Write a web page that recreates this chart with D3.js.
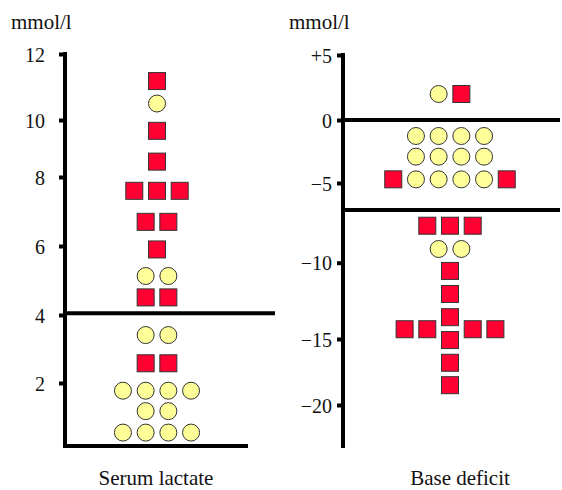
<!DOCTYPE html>
<html>
<head>
<meta charset="utf-8">
<script src="https://cdn.jsdelivr.net/npm/d3@7"></script>
<style>
  html, body { margin: 0; padding: 0; background: #fff; }
</style>
</head>
<body>
<svg id="chart" width="562" height="490"></svg>
<script>
// ---------- DATA ----------
const unitLabel = "mmol/l";
const panelTitles = ["Serum lactate", "Base deficit"];

// tick values and labels
const lactateTicks = [2, 4, 6, 8, 10, 12];
const lactateTickLabels = ["2", "4", "6", "8", "10", "12"];
const deficitTicks = [5, 0, -5, -10, -15, -20];
const deficitTickLabels = ["+5", "0", "\u22125", "\u221210", "\u221215", "\u221220"];

// thresholds (horizontal reference lines)
const lactateThresholds = [4.05];
const deficitThresholds = [0, -6.7];

// rows of markers: value, and pattern (S = square, C = circle, . = gap)
const lactateValues = [11.18, 10.5, 9.62, 8.54, 7.6, 6.7, 5.9, 5.13, 4.51, 3.41, 2.58, 1.77, 1.16, 0.52];
const lactatePatterns = ["S", "C", "S", "S", "SSS", "SS", "S", "CC", "SS", "CC", "SS", "CCCC", "CC", "CCCC"];

const deficitValues = [2.0, -1.27, -2.91, -4.71, -7.68, -9.14, -10.54, -12.05, -13.57, -14.36, -15.08, -16.8, -18.5];
const deficitPatterns = ["CS", "CCCC", "CCCC", "SCCCCS", "SSS", "CC", "S", "S", "S", "SS.SS", "S", "S", "S"];

// ---------- LAYOUT ----------
const FONT = "Liberation Serif";
const svg = d3.select("#chart");
const markerSize = 17;
const step = 22.7;
const red = "#ff0033";
const yellow = "#ffff99";
const markerStroke = "#333";
const textColor = "#111";

// Scales follow the (hand-spaced) tick positions of the original figure
const yL = d3.scaleLinear()
  .domain([0, 2, 4, 6, 8, 10, 12])
  .range([450, 383, 315, 246, 177, 120, 54]);
const yR = d3.scaleLinear()
  .domain([-23.2, -20, -15, -10, -5, 0, 5])
  .range([446.7, 405, 339, 262.7, 183, 120, 55]);

const panels = [
  { axisX: 65, centerX: 157, y: yL, ticks: lactateTicks, labels: lactateTickLabels, pad: 14,
    thresholds: lactateThresholds, thrEnd: 275, values: lactateValues, patterns: lactatePatterns,
    unitX: 11, titleX: 156, bottomLine: [63, 248], axisTop: 12 },
  { axisX: 343, centerX: 450, y: yR, ticks: deficitTicks, labels: deficitTickLabels, pad: 5,
    thresholds: deficitThresholds, thrEnd: 560, values: deficitValues, patterns: deficitPatterns,
    unitX: 289, titleX: 460, bottomLine: null, axisTop: 5 }
];

panels.forEach((p, pi) => {
  const g = svg.append("g");

  // axis with ticks
  const axis = d3.axisLeft(p.y)
    .tickValues(p.ticks)
    .tickSize(6)
    .tickSizeOuter(0)
    .tickPadding(p.pad)
    .tickFormat((d, i) => p.labels[i]);
  const ag = g.append("g").attr("transform", `translate(${p.axisX},0)`).call(axis);
  ag.attr("font-family", FONT).attr("font-size", 20);
  ag.select(".domain").remove();
  ag.selectAll(".tick line").attr("stroke", "#000").attr("stroke-width", 4);
  ag.selectAll(".tick text")
    .attr("font-family", FONT)
    .attr("font-size", 20)
    .attr("fill", textColor)
    .attr("dy", "0.36em");

  // vertical axis line
  g.append("line")
    .attr("x1", p.axisX).attr("x2", p.axisX)
    .attr("y1", p.y(p.axisTop) - 2).attr("y2", 448)
    .attr("stroke", "#000").attr("stroke-width", 4);

  if (p.bottomLine) {
    g.append("line")
      .attr("x1", p.bottomLine[0]).attr("x2", p.bottomLine[1])
      .attr("y1", 446).attr("y2", 446)
      .attr("stroke", "#000").attr("stroke-width", 4);
  }

  // threshold lines
  g.selectAll(".thr").data(p.thresholds).enter().append("line")
    .attr("x1", p.axisX).attr("x2", p.thrEnd)
    .attr("y1", d => p.y(d)).attr("y2", d => p.y(d))
    .attr("stroke", "#000").attr("stroke-width", 4);

  // markers
  const marks = [];
  p.values.forEach((v, ri) => {
    const pat = p.patterns[ri];
    const n = pat.length;
    for (let i = 0; i < n; i++) {
      if (pat[i] === ".") continue;
      marks.push({ v, type: pat[i], x: p.centerX + (i - (n - 1) / 2) * step });
    }
  });

  g.selectAll(".sq").data(marks.filter(d => d.type === "S")).enter().append("rect")
    .attr("x", d => d.x - markerSize / 2)
    .attr("y", d => p.y(d.v) - markerSize / 2)
    .attr("width", markerSize).attr("height", markerSize)
    .attr("fill", red).attr("stroke", markerStroke).attr("stroke-width", 1);

  g.selectAll(".ci").data(marks.filter(d => d.type === "C")).enter().append("circle")
    .attr("cx", d => d.x)
    .attr("cy", d => p.y(d.v))
    .attr("r", markerSize / 2)
    .attr("fill", yellow).attr("stroke", markerStroke).attr("stroke-width", 1);

  // unit label
  g.append("text")
    .attr("x", p.unitX).attr("y", 29)
    .attr("font-family", FONT)
    .attr("font-size", 21)
    .attr("fill", textColor)
    .text(unitLabel);

  // panel title
  g.append("text")
    .attr("x", p.titleX).attr("y", 485)
    .attr("text-anchor", "middle")
    .attr("font-family", FONT)
    .attr("font-size", 21)
    .attr("fill", textColor)
    .text(panelTitles[pi]);
});
</script>
</body>
</html>
